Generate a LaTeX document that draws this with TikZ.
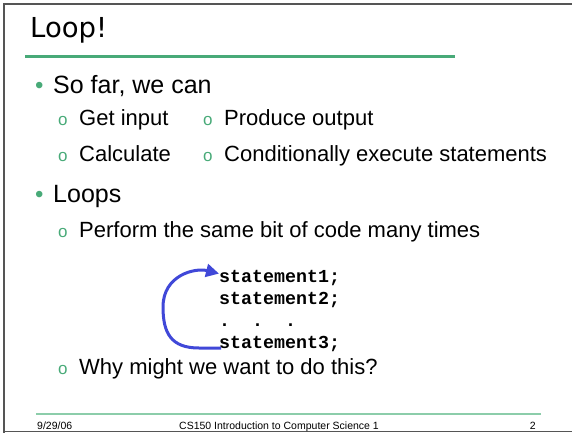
\documentclass[tikz,border=0pt]{standalone}
\usepackage{fontspec}
\setmainfont{Liberation Sans}
\setmonofont{Liberation Mono}
\newfontfamily\titlefont{DejaVu Sans}
\usetikzlibrary{calc,arrows.meta}
\definecolor{slidegreen}{RGB}{72,170,120}
\definecolor{footgreen}{RGB}{140,205,170}
\definecolor{loopblue}{RGB}{64,72,216}
\definecolor{framegray}{RGB}{85,85,85}
\newcommand{\mainbul}{\makebox[18pt][l]{\textcolor{slidegreen}{\fontsize{24}{24}\selectfont •}}}
\newcommand{\subbul}{\makebox[21pt][l]{\textcolor{slidegreen}{\fontsize{17}{17}\selectfont o}}}

\begin{document}
\begin{tikzpicture}[x=1pt,y=-1pt,>=Triangle,
    main/.style={anchor=base west,inner sep=0pt,font=\fontsize{25}{30}\selectfont},
    sub/.style={anchor=base west,inner sep=0pt,font=\fontsize{22}{26}\selectfont},
    code/.style={anchor=base west,inner sep=0pt,font=\ttfamily\bfseries\fontsize{18.3}{22}\selectfont},
    foot/.style={anchor=base,inner sep=0pt,font=\fontsize{10.5}{12}\selectfont}]
  \useasboundingbox (0,0) rectangle (572,433);
  \draw[framegray,line width=2pt] (3.5,433) -- (3.5,4.5) -- (572,4.5);
  \draw[framegray,line width=1.5pt] (3.5,431.5) -- (572,431.5);
  \node[anchor=base west,inner sep=0pt,font=\titlefont\fontsize{27.5}{30}\selectfont] (title) at (30,38) {Loop!};
  \draw[slidegreen,line width=3pt] (25,57) -- (455,57);
  \node[main] (far) at (35,94) {\mainbul So far, we can};
  \node[sub] (inp) at (58,125) {\subbul Get input};
  \node[sub] (outp) at (203,125) {\subbul Produce output};
  \node[sub] (calc) at (58,161) {\subbul Calculate};
  \node[sub] (cond) at (203,161) {\subbul Conditionally execute statements};
  \node[main] (loops) at (35,202) {\mainbul Loops};
  \node[sub] (perf) at (58,237) {\subbul Perform the same bit of code many times};
  \node[code] (s1) at (219,282) {statement1;};
  \node[code] (s2) at (219,304) {statement2;};
  \node[code] (dots) at (219,326) {.\ \ .\ \ .};
  \node[code] (s3) at (219,348) {statement3;};
  \node[sub] (why) at (58,374) {\subbul Why might we want to do this?};
  \draw[loopblue,line width=3pt,->,>={Triangle[length=13pt,width=13pt]}]
    ([xshift=2pt]s3.base west) -- ++(-22,0) .. controls +(-28,0) and +(0,26) .. (163,307)
    .. controls +(0,-32) and +(-24,-6) .. ([yshift=-4pt]s1.north west);
  \draw[footgreen,line width=1.5pt] (36,414) -- (541,414);
  \node[foot,anchor=base west] (date) at (37,429) {9/29/06};
  \node[foot] (course) at (279,429) {CS150 Introduction to Computer Science 1};
  \node[foot,anchor=base east] (page) at (536,429) {2};
\end{tikzpicture}
\end{document}
